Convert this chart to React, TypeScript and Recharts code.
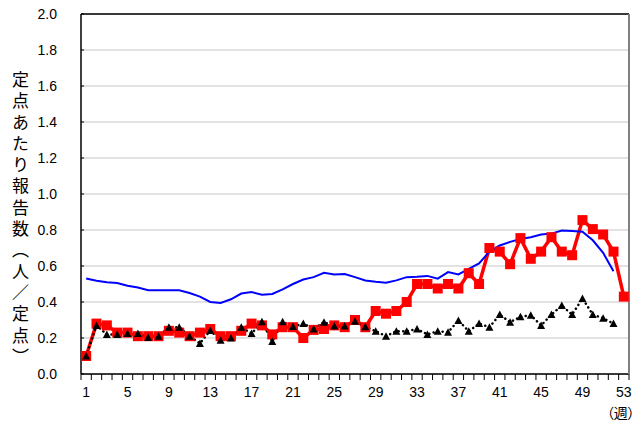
import {
  CartesianGrid,
  ComposedChart,
  Line,
  ReferenceLine,
  XAxis,
  YAxis,
} from "recharts";

const weeks = [
  1, 2, 3, 4, 5, 6, 7, 8, 9, 10, 11, 12, 13, 14, 15, 16, 17, 18, 19, 20, 21, 22, 23, 24, 25, 26,
  27, 28, 29, 30, 31, 32, 33, 34, 35, 36, 37, 38, 39, 40, 41, 42, 43, 44, 45, 46, 47, 48, 49, 50,
  51, 52, 53,
];

// this season (red squares)
const thisSeason = [
  0.1, 0.28, 0.27, 0.23, 0.23, 0.21, 0.21, 0.21, 0.24, 0.23, 0.21, 0.23, 0.25, 0.21, 0.21, 0.24,
  0.28, 0.27, 0.22, 0.26, 0.26, 0.2, 0.245, 0.25, 0.27, 0.26, 0.3, 0.26, 0.35, 0.335, 0.35, 0.4,
  0.5, 0.5, 0.475, 0.5, 0.475, 0.56, 0.5, 0.7, 0.68, 0.61, 0.755, 0.64, 0.68, 0.76, 0.68, 0.66,
  0.855, 0.805, 0.775, 0.68, 0.43,
];

// previous season (black triangles, dotted)
const lastSeason = [
  0.1, 0.27, 0.22, 0.22, 0.225, 0.225, 0.203, 0.21, 0.26, 0.26, 0.21, 0.17, 0.242, 0.188, 0.2,
  0.26, 0.225, 0.29, 0.18, 0.29, 0.264, 0.28, 0.25, 0.288, 0.266, 0.266, 0.293, 0.263, 0.238,
  0.21, 0.238, 0.238, 0.25, 0.22, 0.238, 0.232, 0.297, 0.238, 0.28, 0.26, 0.33, 0.288, 0.318,
  0.327, 0.27, 0.33, 0.38, 0.33, 0.42, 0.33, 0.31, 0.28, null,
];

// past years average (blue)
const pastAverage = [
  0.53, 0.518, 0.51, 0.505, 0.49, 0.48, 0.465, 0.465, 0.465, 0.465, 0.45, 0.43, 0.4, 0.395,
  0.415, 0.447, 0.455, 0.44, 0.445, 0.47, 0.5, 0.525, 0.538, 0.562, 0.553, 0.555, 0.538, 0.52,
  0.512, 0.507, 0.52, 0.538, 0.54, 0.545, 0.53, 0.566, 0.553, 0.584, 0.614, 0.68, 0.714, 0.734,
  0.75, 0.76, 0.775, 0.78, 0.797, 0.795, 0.79, 0.743, 0.673, 0.571, null,
];

const yTicks = [0, 0.2, 0.4, 0.6, 0.8, 1.0, 1.2, 1.4, 1.6, 1.8, 2.0];
const labelledWeeks = [1, 5, 9, 13, 17, 21, 25, 29, 33, 37, 41, 45, 49, 53];

const yTitle = "定点あたり報告数（人／定点）";
const xUnit = "（週）";

const numFont = "'Liberation Sans', Arial, sans-serif";
const jpFont = "'Noto Sans CJK JP', sans-serif";

const rows = weeks.map((w, i) => ({
  week: w,
  now: thisSeason[i],
  prev: lastSeason[i],
  avg: pastAverage[i],
}));

function XTick(props: any) {
  const { x, y, payload, index } = props;
  const half = payload?.offset ?? 5.17;
  const last = index === weeks.length - 1;
  return (
    <g>
      <line x1={x - half} x2={x - half} y1={y} y2={y + 6} stroke="#000" />
      {last && <line x1={x + half} x2={x + half} y1={y} y2={y + 6} stroke="#000" />}
      {labelledWeeks.includes(payload.value) && (
        <text
          x={x}
          y={y + 23}
          textAnchor="middle"
          fontSize={14}
          fontFamily={numFont}
          fill="#000"
        >
          {payload.value}
        </text>
      )}
      {last && (
        <text
          x={x - 3}
          y={y + 44}
          textAnchor="middle"
          fontSize={14}
          fontFamily={jpFont}
          fill="#000"
          style={{ fontFeatureSettings: '"palt"' }}
        >
          {xUnit}
        </text>
      )}
    </g>
  );
}

function YTick(props: any) {
  const { x, y, payload } = props;
  return (
    <g>
      <line x1={x + 24} x2={x + 27} y1={y} y2={y} stroke="#000" />
      <text
        x={x}
        y={y}
        dy="0.36em"
        textAnchor="end"
        fontSize={14}
        fontFamily={numFont}
        fill="#000"
      >
        {payload.value.toFixed(1)}
      </text>
    </g>
  );
}

function SquareDot(props: any) {
  const { cx, cy, index } = props;
  if (cx == null || cy == null) return <g key={`s${index}`} />;
  return <rect key={`s${index}`} x={cx - 5} y={cy - 5} width={10} height={10} fill="#ff0000" />;
}

function TriangleDot(props: any) {
  const { cx, cy, index } = props;
  if (cx == null || cy == null) return <g key={`t${index}`} />;
  return (
    <path
      key={`t${index}`}
      d={`M${cx},${cy - 4} L${cx + 4},${cy + 3.5} L${cx - 4},${cy + 3.5} Z`}
      fill="#000"
    />
  );
}

export default function App() {
  return (
    <div
      style={{
        position: "absolute",
        left: 0,
        top: 0,
        width: 638,
        height: 432,
        background: "#fff",
      }}
    >
      <ComposedChart
        width={638}
        height={432}
        data={rows}
        margin={{ top: 14, right: 0, bottom: 0, left: 0 }}
        accessibilityLayer={false}
      >
        <CartesianGrid horizontal vertical={false} stroke="#d9d9d9" strokeWidth={1.5} />
        <XAxis
          dataKey="week"
          type="category"
          scale="band"
          interval={0}
          height={58}
          tickSize={0}
          tickMargin={0}
          tickLine={false}
          axisLine={{ stroke: "#000", strokeWidth: 1.5 }}
          tick={<XTick />}
        />
        <YAxis
          domain={[0, 2]}
          ticks={yTicks}
          width={81}
          tickSize={0}
          tickMargin={24}
          tickLine={false}
          axisLine={{ stroke: "#000", strokeWidth: 1.5 }}
          tick={<YTick />}
          allowDataOverflow
        />
        <YAxis
          yAxisId="right"
          orientation="right"
          domain={[0, 2]}
          width={9}
          tick={false}
          tickLine={false}
          axisLine={{ stroke: "#808080", strokeWidth: 2 }}
        />
        <ReferenceLine y={2} stroke="#000" strokeWidth={1.5} />
        <Line
          type="linear"
          dataKey="now"
          stroke="#ff0000"
          strokeWidth={3.5}
          dot={SquareDot}
          activeDot={false}
          isAnimationActive={false}
        />
        <Line
          type="linear"
          dataKey="avg"
          stroke="#0000ff"
          strokeWidth={2}
          dot={false}
          activeDot={false}
          connectNulls={false}
          isAnimationActive={false}
        />
        <Line
          type="linear"
          dataKey="prev"
          stroke="#000"
          strokeWidth={2.5}
          strokeDasharray="0.1 4.5"
          strokeLinecap="round"
          dot={TriangleDot}
          activeDot={false}
          connectNulls={false}
          isAnimationActive={false}
        />
      </ComposedChart>
      <div
        style={{
          position: "absolute",
          left: 12,
          top: 71,
          writingMode: "vertical-rl",
          fontFamily: jpFont,
          fontSize: 17,
          letterSpacing: "4.3px",
          lineHeight: 1,
          color: "#000",
        }}
      >
        {yTitle}
      </div>
    </div>
  );
}
